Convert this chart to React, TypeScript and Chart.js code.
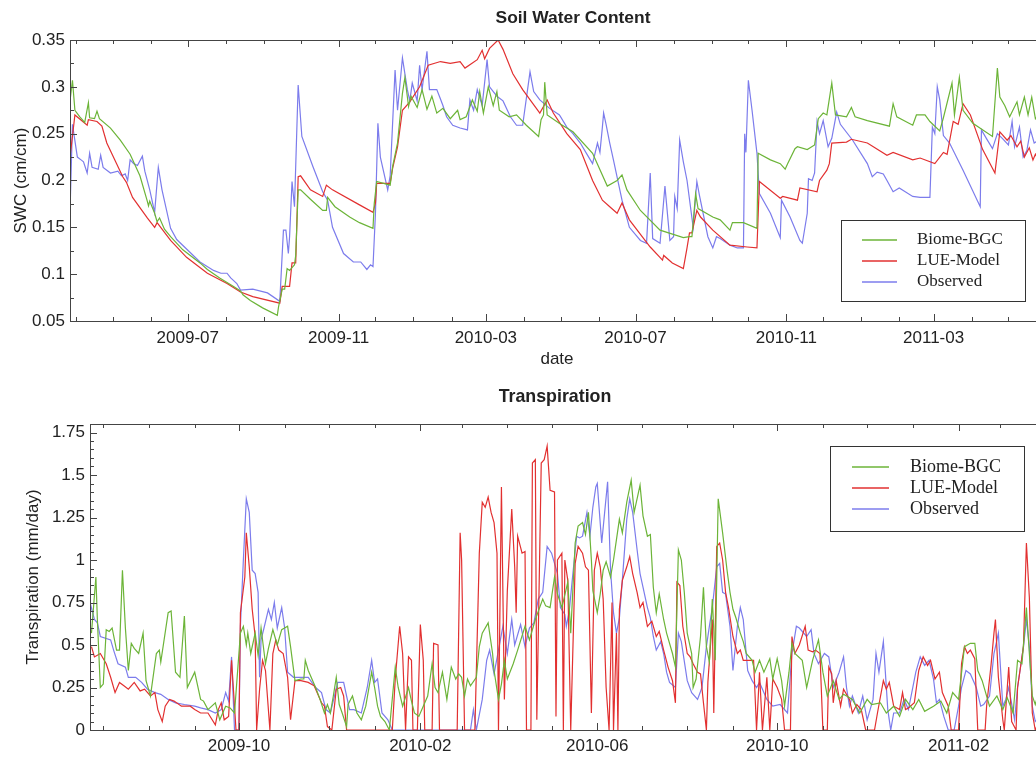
import React, { useEffect, useRef } from "react";
import { Chart, registerables } from "chart.js";

Chart.register(...registerables);

type Pair = [number, number];

// ---------- shared ----------
const seriesNames = ["Biome-BGC", "LUE-Model", "Observed"];
const seriesColors = ["rgb(108,180,56)", "rgb(226,48,48)", "rgb(124,124,236)"];

// ---------- Soil Water Content (days since swcStart, cm/cm) ----------
const swcStart = "2009-03-27";
const swcEnd = "2011-05-30";
const swcYTicks = [0.05, 0.1, 0.15, 0.2, 0.25, 0.3, 0.35];
const swcMajorMonths = ["2009-07", "2009-11", "2010-03", "2010-07", "2010-11", "2011-03"];

const swcBiome: Pair[] = [[0,0.285],[2,0.307],[4,0.275],[8,0.268],[12,0.262],[15,0.283],[16,0.267],[20,0.266],[22,0.274],[24,0.266],[33,0.256],[41,0.243],[49,0.228],[57,0.205],[63,0.178],[64,0.173],[65,0.178],[69,0.165],[71,0.156],[73,0.16],[77,0.148],[82,0.14],[92,0.126],[106,0.112],[112,0.105],[122,0.096],[133,0.087],[139,0.082],[141,0.078],[147,0.072],[157,0.064],[169,0.056],[170,0.065],[173,0.084],[175,0.084],[177,0.106],[179,0.104],[183,0.11],[184,0.12],[186,0.19],[188,0.19],[196,0.18],[206,0.168],[209,0.168],[210,0.182],[216,0.172],[228,0.161],[236,0.155],[247,0.149],[248,0.175],[250,0.199],[261,0.195],[263,0.215],[267,0.24],[271,0.293],[273,0.31],[276,0.279],[278,0.29],[283,0.278],[287,0.297],[291,0.276],[295,0.29],[299,0.272],[304,0.277],[310,0.266],[316,0.275],[318,0.265],[323,0.268],[328,0.286],[332,0.274],[334,0.295],[337,0.272],[341,0.3],[345,0.28],[348,0.295],[350,0.275],[358,0.268],[364,0.27],[372,0.259],[382,0.247],[384,0.265],[386,0.27],[387,0.305],[389,0.27],[400,0.26],[410,0.252],[426,0.229],[438,0.194],[446,0.2],[450,0.206],[454,0.19],[465,0.168],[481,0.147],[500,0.139],[505,0.14],[507,0.14],[510,0.186],[512,0.17],[524,0.161],[530,0.158],[538,0.147],[540,0.155],[549,0.155],[560,0.149],[561,0.229],[571,0.222],[579,0.218],[583,0.212],[585,0.218],[591,0.234],[593,0.236],[601,0.233],[607,0.238],[610,0.266],[614,0.272],[617,0.27],[621,0.304],[624,0.27],[633,0.268],[637,0.278],[640,0.268],[650,0.264],[668,0.258],[671,0.282],[674,0.268],[687,0.259],[690,0.27],[697,0.27],[701,0.263],[709,0.253],[712,0.267],[719,0.304],[721,0.27],[725,0.31],[728,0.275],[736,0.261],[752,0.247],[756,0.32],[758,0.289],[762,0.28],[766,0.268],[772,0.284],[774,0.27],[778,0.289],[781,0.27],[784,0.289],[787,0.266],[792,0.275]];

const swcLue: Pair[] = [[0,0.225],[4,0.27],[14,0.259],[15,0.265],[22,0.263],[26,0.258],[30,0.24],[43,0.204],[46,0.198],[51,0.182],[63,0.16],[69,0.15],[71,0.155],[82,0.136],[95,0.118],[112,0.101],[128,0.09],[139,0.081],[149,0.076],[171,0.069],[173,0.087],[179,0.087],[181,0.112],[184,0.112],[186,0.204],[188,0.205],[196,0.19],[206,0.183],[209,0.195],[214,0.19],[236,0.174],[247,0.166],[249,0.176],[250,0.197],[261,0.197],[263,0.213],[267,0.236],[271,0.275],[277,0.284],[285,0.3],[292,0.323],[302,0.327],[310,0.325],[318,0.327],[322,0.32],[332,0.329],[336,0.339],[338,0.33],[342,0.341],[349,0.35],[353,0.34],[361,0.314],[369,0.297],[383,0.272],[389,0.286],[394,0.272],[405,0.25],[416,0.233],[426,0.2],[434,0.179],[440,0.172],[446,0.165],[450,0.176],[456,0.158],[473,0.129],[483,0.115],[484,0.12],[491,0.112],[500,0.106],[503,0.128],[505,0.144],[507,0.144],[511,0.168],[514,0.161],[524,0.147],[538,0.131],[552,0.129],[560,0.128],[562,0.199],[579,0.181],[581,0.183],[593,0.179],[595,0.192],[609,0.188],[611,0.2],[617,0.211],[619,0.218],[621,0.24],[633,0.241],[637,0.244],[650,0.24],[666,0.227],[671,0.23],[687,0.222],[693,0.224],[705,0.218],[712,0.23],[715,0.228],[720,0.263],[724,0.26],[728,0.282],[734,0.27],[744,0.233],[754,0.208],[758,0.252],[764,0.243],[767,0.248],[772,0.236],[775,0.242],[778,0.225],[782,0.235],[785,0.222],[787,0.228],[792,0.215]];

const swcObs: Pair[] = [[0,0.166],[2,0.26],[6,0.225],[9,0.222],[11,0.22],[14,0.208],[16,0.229],[18,0.214],[23,0.212],[25,0.227],[27,0.214],[33,0.208],[39,0.21],[42,0.205],[45,0.207],[47,0.2],[49,0.222],[52,0.218],[55,0.216],[59,0.226],[61,0.21],[65,0.19],[69,0.166],[72,0.214],[75,0.19],[82,0.149],[87,0.137],[106,0.113],[117,0.104],[123,0.101],[128,0.101],[131,0.096],[136,0.09],[139,0.083],[149,0.084],[161,0.08],[171,0.071],[174,0.147],[176,0.147],[178,0.122],[179,0.14],[181,0.199],[183,0.172],[186,0.302],[189,0.247],[198,0.215],[206,0.188],[210,0.179],[214,0.15],[223,0.122],[231,0.113],[237,0.113],[242,0.105],[245,0.11],[247,0.108],[249,0.165],[251,0.261],[253,0.225],[259,0.19],[261,0.205],[265,0.318],[267,0.275],[271,0.331],[275,0.297],[277,0.285],[279,0.304],[283,0.285],[285,0.323],[287,0.297],[291,0.338],[293,0.297],[299,0.297],[302,0.287],[304,0.28],[307,0.268],[312,0.259],[318,0.256],[324,0.254],[326,0.286],[329,0.275],[332,0.297],[336,0.28],[340,0.329],[342,0.3],[348,0.29],[353,0.285],[359,0.268],[364,0.259],[369,0.259],[375,0.316],[378,0.295],[383,0.286],[391,0.277],[399,0.27],[405,0.257],[410,0.25],[416,0.24],[421,0.229],[426,0.218],[430,0.24],[432,0.23],[434,0.257],[435,0.272],[437,0.26],[440,0.24],[443,0.222],[450,0.179],[456,0.15],[465,0.136],[470,0.133],[473,0.208],[475,0.138],[481,0.133],[485,0.194],[489,0.136],[492,0.14],[493,0.183],[495,0.17],[497,0.243],[500,0.22],[503,0.2],[508,0.15],[511,0.199],[513,0.185],[520,0.14],[524,0.128],[527,0.14],[530,0.138],[538,0.131],[544,0.128],[549,0.128],[550,0.25],[551,0.23],[553,0.307],[556,0.275],[560,0.229],[562,0.186],[571,0.165],[579,0.139],[580,0.179],[587,0.161],[595,0.136],[597,0.133],[601,0.165],[602,0.202],[605,0.2],[607,0.208],[609,0.263],[611,0.25],[614,0.264],[618,0.236],[621,0.245],[625,0.273],[628,0.26],[638,0.243],[650,0.218],[654,0.204],[658,0.209],[663,0.207],[666,0.2],[671,0.188],[676,0.192],[687,0.183],[693,0.182],[701,0.182],[703,0.257],[705,0.25],[707,0.3],[709,0.286],[712,0.248],[717,0.24],[728,0.211],[742,0.172],[743,0.254],[747,0.245],[752,0.234],[756,0.25],[760,0.245],[765,0.238],[768,0.263],[770,0.236],[774,0.257],[777,0.225],[780,0.232],[783,0.254],[786,0.24],[792,0.245]];

// ---------- Transpiration (days since trStart, mm/day) ----------
const trStart = "2009-06-22";
const trEnd = "2011-04-04";
const trYTicks = [0, 0.25, 0.5, 0.75, 1, 1.25, 1.5, 1.75];
const trMajorMonths = ["2009-10", "2010-02", "2010-06", "2010-10", "2011-02"];

const trBiome: Pair[] = [[1,0.57],[4,0.9],[5,0.65],[7,0.25],[9,0.27],[11,0.59],[13,0.58],[15,0.6],[18,0.47],[20,0.47],[22,0.94],[24,0.6],[26,0.35],[28,0.51],[30,0.48],[33,0.45],[36,0.57],[38,0.29],[41,0.2],[45,0.45],[47,0.47],[48,0.4],[53,0.69],[55,0.7],[58,0.34],[61,0.31],[64,0.67],[66,0.25],[71,0.34],[75,0.18],[77,0.17],[80,0.12],[85,0.16],[88,0.06],[92,0.14],[95,0.13],[98,0.1],[102,0.57],[104,0.61],[106,0.5],[107,0.57],[109,0.45],[112,0.57],[114,0.44],[116,0.6],[119,0.39],[121,0.48],[124,0.59],[127,0.5],[130,0.59],[134,0.61],[136,0.49],[139,0.29],[143,0.3],[145,0.3],[146,0.41],[148,0.35],[153,0.25],[156,0.18],[159,0.1],[161,0.15],[163,0.1],[165,0.2],[167,0.31],[169,0.15],[171,0.1],[174,0.02],[175,0.15],[178,0.2],[181,0.1],[184,0.06],[187,0.14],[191,0.34],[193,0.25],[195,0.14],[197,0.08],[200,0.05],[203,0],[207,0.37],[209,0.25],[212,0.14],[216,0.25],[218,0.17],[220,0.1],[223,0.08],[226,0.14],[229,0.2],[232,0.39],[234,0.25],[236,0.22],[239,0.34],[242,0.18],[245,0.37],[248,0.3],[250,0.33],[252,0.31],[254,0.2],[256,0.3],[258,0.26],[262,0.31],[264,0.49],[266,0.57],[270,0.63],[273,0.45],[274,0.35],[277,0.18],[279,0.27],[281,0.41],[283,0.3],[287,0.39],[290,0.47],[295,0.61],[298,0.53],[302,0.65],[307,0.77],[309,0.73],[312,0.72],[315,0.9],[317,0.8],[320,0.72],[324,0.87],[326,0.57],[329,1.1],[331,1.2],[334,1.22],[336,1.15],[338,1.28],[340,1.0],[341,0.82],[344,0.69],[346,0.8],[348,0.94],[350,0.99],[353,0.9],[355,1.0],[357,1.12],[359,1.24],[361,1.16],[364,1.34],[367,1.47],[369,1.28],[373,1.44],[375,1.26],[378,1.14],[380,1.15],[382,0.84],[384,0.69],[386,0.8],[389,0.65],[391,0.57],[395,0.45],[397,0.37],[399,1.06],[401,1.0],[403,0.81],[405,0.57],[408,0.45],[409,0.25],[411,0.3],[414,0.55],[416,0.84],[418,0.49],[420,0.4],[422,0.77],[424,0.41],[426,1.36],[429,1.16],[432,0.94],[434,0.81],[436,0.71],[438,0.66],[441,0.57],[443,0.52],[445,0.45],[449,0.41],[451,0.34],[454,0.41],[457,0.34],[461,0.42],[463,0.3],[466,0.42],[469,0.29],[471,0.14],[474,0.34],[476,0.51],[478,0.45],[483,0.41],[486,0.25],[490,0.41],[494,0.53],[497,0.34],[500,0.2],[504,0.29],[508,0.18],[511,0.21],[517,0.18],[522,0.1],[527,0.18],[530,0.15],[536,0.16],[540,0.1],[545,0.14],[549,0.08],[553,0.18],[558,0.12],[562,0.18],[566,0.11],[572,0.14],[577,0.17],[581,0.1],[585,0.22],[589,0.18],[593,0.49],[597,0.51],[600,0.51],[602,0.35],[605,0.29],[610,0.14],[615,0.2],[619,0.12],[622,0.19],[626,0.1],[629,0.41],[632,0.39],[635,0.72],[637,0.45],[639,0.2],[641,0.15],[646,0.3]];

const trLue: Pair[] = [[1,0.49],[3,0.43],[7,0.45],[11,0.39],[14,0.31],[17,0.22],[20,0.28],[23,0.26],[26,0.24],[30,0.28],[34,0.23],[37,0.24],[41,0.2],[44,0.22],[46,0.12],[49,0.05],[51,0.14],[54,0.18],[57,0.17],[62,0.14],[68,0.14],[71,0.12],[75,0.1],[80,0.1],[85,0.03],[87,0.12],[89,0.16],[91,0.06],[94,0.08],[96,0.41],[98,0.14],[99,0],[101,0],[102,0.69],[105,0.9],[106,1.16],[108,0.96],[110,0.71],[112,0.55],[113,0],[115,0.24],[117,0.41],[119,0.35],[122,0],[124,0.45],[126,0.53],[128,0.47],[131,0.45],[134,0.31],[136,0.06],[139,0.29],[143,0.29],[148,0.28],[152,0.26],[157,0.16],[159,0.14],[161,0.02],[164,0],[167,0.24],[170,0.25],[172,0.2],[174,0],[205,0],[207,0.3],[210,0.61],[212,0.45],[214,0],[216,0.43],[218,0.41],[219,0],[222,0],[224,0.62],[226,0.41],[227,0],[232,0],[233,0.51],[236,0.5],[237,0],[249,0],[251,1.16],[252,1.0],[254,0],[261,0],[264,1.04],[266,1.34],[268,1.31],[270,1.37],[272,1.28],[274,1.22],[276,1.04],[277,0],[279,1.43],[281,0.18],[283,0.82],[286,1.3],[288,0.96],[289,0.69],[290,1.14],[293,1.04],[295,1.05],[296,0],[299,0],[300,1.57],[302,1.59],[303,0.06],[306,1.57],[308,1.59],[310,1.67],[312,1.41],[315,1.4],[316,0.08],[317,1.0],[320,1.04],[321,0],[322,1.0],[324,0.88],[326,0],[329,0.98],[331,1.08],[334,1.04],[336,0.96],[338,0.94],[340,0.1],[342,0.94],[344,1.04],[346,0.96],[348,0.77],[350,0.25],[352,0],[354,0.75],[355,0],[357,0.57],[358,0],[359,0.71],[361,0.88],[364,0.96],[366,1.02],[368,0.92],[371,0.81],[373,0.72],[375,0.75],[378,0.61],[381,0.64],[384,0.55],[386,0.58],[389,0.47],[392,0.37],[395,0.29],[397,0.16],[398,0.87],[400,0.85],[402,0.61],[405,0.45],[407,0.43],[409,0.39],[412,0.34],[414,0.33],[416,0.16],[418,0],[419,0.28],[422,0.65],[423,0.1],[425,1.08],[427,1.1],[429,1.0],[431,0.81],[433,0.72],[436,0.55],[439,0.45],[441,0.47],[443,0.41],[446,0.41],[450,0.41],[452,0],[454,0.34],[456,0],[459,0.31],[461,0],[463,0.3],[466,0.25],[469,0.18],[471,0],[475,0],[476,0.55],[478,0.45],[481,0.5],[485,0.61],[487,0.47],[490,0.46],[492,0.47],[495,0.45],[497,0],[500,0],[501,0.37],[503,0.33],[504,0.16],[506,0.29],[509,0.14],[511,0.24],[515,0.18],[517,0.1],[520,0.15],[523,0.12],[526,0],[532,0],[534,0.1],[538,0.29],[540,0.24],[542,0.28],[545,0.14],[549,0.12],[551,0.22],[553,0.12],[555,0.13],[559,0.16],[562,0.35],[565,0.43],[568,0.38],[570,0.41],[573,0.3],[576,0.34],[578,0.22],[582,0.14],[584,0],[589,0],[591,0.39],[593,0.49],[595,0.45],[597,0.47],[600,0.42],[602,0],[607,0],[608,0.14],[611,0.38],[613,0.57],[614,0.65],[616,0.31],[619,0.06],[620,0],[623,0.37],[625,0.05],[628,0],[629,0.25],[633,0.49],[635,1.1],[637,0.78],[639,0.1],[641,0],[646,0.1]];

const trObs: Pair[] = [[0,0.75],[3,0.65],[5,0.63],[7,0.55],[14,0.53],[16,0.47],[19,0.39],[24,0.37],[26,0.31],[31,0.31],[35,0.28],[39,0.24],[44,0.22],[48,0.21],[53,0.18],[58,0.16],[64,0.15],[71,0.14],[75,0.13],[80,0.12],[85,0.1],[89,0.12],[92,0.22],[94,0.17],[96,0.43],[98,0],[101,0],[102,0.61],[104,1.0],[106,1.36],[108,1.28],[110,0.94],[112,0.92],[114,0.81],[115,0.31],[116,0.53],[118,0.6],[121,0.71],[123,0.65],[125,0.75],[127,0.6],[130,0.72],[132,0.6],[134,0.34],[138,0.31],[143,0.31],[148,0.31],[153,0.25],[157,0.22],[160,0.12],[163,0.1],[168,0.28],[172,0.28],[174,0.2],[176,0.12],[179,0.12],[184,0.1],[188,0.25],[191,0.41],[193,0.28],[195,0.3],[198,0.1],[202,0.06],[205,0],[258,0],[260,0.12],[262,0],[266,0.18],[269,0.41],[271,0.47],[274,0.33],[277,0.47],[280,0.61],[283,0.45],[286,0.65],[288,0.5],[292,0.62],[295,0.49],[298,0.6],[301,0.63],[304,0.77],[307,0.81],[310,1.08],[313,1.04],[317,0.92],[319,0.72],[322,0.68],[323,0.61],[325,0.7],[327,0.88],[330,1.14],[332,1.13],[334,1.14],[337,1.28],[339,1.14],[341,1.31],[343,1.43],[344,1.45],[347,1.1],[349,1.28],[351,1.46],[353,0.94],[355,0.69],[357,0.57],[359,0.66],[361,0.88],[364,1.24],[366,1.36],[368,1.28],[371,1.06],[373,0.92],[375,0.84],[378,0.72],[380,0.66],[382,0.55],[384,0.47],[387,0.52],[389,0.45],[391,0.34],[393,0.28],[397,0.25],[399,0.57],[401,0.52],[405,0.29],[408,0.22],[412,0.18],[415,0.25],[418,0.49],[420,0.61],[422,0.72],[425,0.96],[427,0.98],[429,0.81],[431,0.8],[434,0.61],[436,0.35],[439,0.61],[441,0.72],[443,0.65],[446,0.35],[449,0.29],[452,0.25],[454,0.28],[459,0.18],[463,0.14],[468,0.15],[473,0.1],[476,0.45],[479,0.61],[481,0.6],[486,0.55],[489,0.59],[491,0.45],[494,0.39],[498,0.45],[501,0.43],[504,0.25],[508,0.34],[511,0.43],[513,0.25],[515,0.14],[517,0.2],[521,0.1],[524,0.2],[527,0.06],[531,0.18],[533,0.45],[535,0.34],[538,0.52],[541,0.12],[543,0],[545,0.1],[549,0.1],[552,0.18],[555,0.12],[560,0.34],[563,0.43],[566,0.38],[569,0.41],[572,0.3],[574,0.16],[576,0.18],[579,0.08],[582,0],[586,0],[589,0.14],[591,0.25],[594,0.35],[597,0.33],[601,0.25],[604,0.14],[606,0.15],[610,0.2],[613,0.45],[616,0.57],[619,0.14],[621,0.18],[623,0.25],[627,0.06],[629,0.25],[633,0.49],[635,0.65],[637,0.49],[639,0.14],[641,0.05],[646,0.1]];

// ---------- helpers ----------
const SANS = '"Liberation Sans", Arial, Helvetica, sans-serif';
const SERIF = '"Liberation Serif", "Times New Roman", serif';
const INK = "#222";
const FRAME = "#444";

function dayNum(s: string): number {
  const [y, m, d] = s.split("-").map(Number);
  return Date.UTC(y, m - 1, d || 1) / 86400000;
}
function monthLabel(day: number): string {
  const dt = new Date(day * 86400000);
  return `${dt.getUTCFullYear()}-${String(dt.getUTCMonth() + 1).padStart(2, "0")}`;
}
function monthStarts(minDay: number, maxDay: number): number[] {
  const out: number[] = [];
  const dt = new Date(minDay * 86400000);
  let y = dt.getUTCFullYear();
  let m = dt.getUTCMonth();
  for (let i = 0; i < 60; i++) {
    const d = Date.UTC(y, m, 1) / 86400000;
    if (d > maxDay) break;
    if (d >= minDay) out.push(d);
    m++;
    if (m > 11) { m = 0; y++; }
  }
  return out;
}

interface Spec {
  width: number; height: number; top: number;
  area: { left: number; top: number; right: number; bottom: number };
  start: string; end: string;
  series: Pair[][];
  yMin: number; yMax: number; yTicks: number[]; yMinor: number;
  majorMonths: string[];
  title: string; titleX: number; titleBase: number; titleSize: number;
  yTitle: string; yTitlePad: number;
  xTitle: string | null;
  xTickPad: number;
  legend: { x0: number; y0: number; x1: number; y1: number; lx0: number; lx1: number; tx: number; rows: number[]; size: number };
}

const specs: Spec[] = [
  {
    width: 1100, height: 380, top: 0,
    area: { left: 70, top: 40, right: 1044, bottom: 321 },
    start: swcStart, end: swcEnd,
    series: [swcBiome, swcLue, swcObs],
    yMin: 0.05, yMax: 0.35, yTicks: swcYTicks, yMinor: 0.025,
    majorMonths: swcMajorMonths,
    title: "Soil Water Content", titleX: 573, titleBase: 23, titleSize: 17.4,
    yTitle: "SWC (cm/cm)", yTitlePad: 11,
    xTitle: "date",
    xTickPad: 7,
    legend: { x0: 841, y0: 220, x1: 1025, y1: 301, lx0: 862, lx1: 897, tx: 917, rows: [240, 261, 282], size: 17 },
  },
  {
    width: 1100, height: 377, top: 380,
    area: { left: 90, top: 44, right: 1050, bottom: 350 },
    start: trStart, end: trEnd,
    series: [trBiome, trLue, trObs],
    yMin: 0, yMax: 1.8, yTicks: trYTicks, yMinor: 0.05,
    majorMonths: trMajorMonths,
    title: "Transpiration", titleX: 555, titleBase: 22, titleSize: 17.8,
    yTitle: "Transpiration (mm/day)", yTitlePad: 23,
    xTitle: null,
    xTickPad: 6,
    legend: { x0: 830, y0: 66, x1: 1024, y1: 151, lx0: 852, lx1: 889, tx: 910, rows: [87, 108, 129], size: 18 },
  },
];

function buildChart(canvas: HTMLCanvasElement, spec: Spec) {
  const base = dayNum(spec.start);
  const xMin = base;
  const xMax = dayNum(spec.end);
  const majorDays = spec.majorMonths.map((m) => dayNum(m + "-01"));
  const months = monthStarts(xMin, xMax);

  const decor = {
    id: "decor",
    afterDraw(chart: any) {
      const { ctx, chartArea: a, scales } = chart;
      const xs = scales.x;
      const ys = scales.y;
      ctx.save();
      ctx.setLineDash([]);
      ctx.strokeStyle = FRAME;
      ctx.lineWidth = 1;
      ctx.beginPath();
      months.forEach((d) => {
        const major = majorDays.includes(d);
        const len = major ? 7 : 4;
        const px = Math.round(xs.getPixelForValue(d)) + 0.5;
        ctx.moveTo(px, a.bottom);
        ctx.lineTo(px, a.bottom - len);
        ctx.moveTo(px, a.top);
        ctx.lineTo(px, a.top + len);
      });
      const n = Math.round((spec.yMax - spec.yMin) / spec.yMinor);
      for (let k = 0; k <= n; k++) {
        const v = spec.yMin + k * spec.yMinor;
        const major = spec.yTicks.some((t) => Math.abs(t - v) < 1e-6);
        const len = major ? 7 : 4;
        const py = Math.round(ys.getPixelForValue(v)) + 0.5;
        ctx.moveTo(a.left, py);
        ctx.lineTo(a.left + len, py);
      }
      ctx.stroke();
      ctx.strokeRect(Math.round(a.left) + 0.5, Math.round(a.top) + 0.5, Math.round(a.right - a.left), Math.round(a.bottom - a.top));

      // title
      ctx.fillStyle = INK;
      ctx.font = `bold ${spec.titleSize}px ${SANS}`;
      ctx.textAlign = "center";
      ctx.textBaseline = "alphabetic";
      ctx.fillText(spec.title, spec.titleX, spec.titleBase);

      // legend
      const L = spec.legend;
      ctx.fillStyle = "#fff";
      ctx.fillRect(L.x0, L.y0, L.x1 - L.x0, L.y1 - L.y0);
      ctx.strokeStyle = "#333";
      ctx.lineWidth = 1;
      ctx.strokeRect(L.x0 + 0.5, L.y0 + 0.5, L.x1 - L.x0, L.y1 - L.y0);
      ctx.font = `${L.size}px ${SERIF}`;
      ctx.textAlign = "left";
      ctx.textBaseline = "middle";
      for (let i = 0; i < seriesNames.length; i++) {
        const y = L.rows[i];
        ctx.beginPath();
        ctx.strokeStyle = seriesColors[i];
        ctx.lineWidth = 1.5;
        ctx.moveTo(L.lx0, y);
        ctx.lineTo(L.lx1, y);
        ctx.stroke();
        ctx.fillStyle = INK;
        ctx.fillText(seriesNames[i], L.tx, y);
      }
      ctx.restore();
    },
  };

  const datasets = spec.series.map((pts, i) => ({
    label: seriesNames[i],
    data: pts.map(([d, v]) => ({ x: base + d, y: v })),
    borderColor: seriesColors[i],
    backgroundColor: seriesColors[i],
    borderWidth: 1.2,
    pointRadius: 0,
    pointHoverRadius: 0,
    fill: false,
    tension: 0,
  }));

  const tickFont = { family: SANS, size: 17 };

  return new Chart(canvas, {
    type: "line",
    data: { datasets },
    plugins: [decor],
    options: {
      responsive: false,
      animation: false,
      devicePixelRatio: 1,
      events: [],
      layout: { padding: { left: 0, top: spec.area.top, right: spec.width - spec.area.right, bottom: 0 } },
      plugins: { legend: { display: false }, title: { display: false }, tooltip: { enabled: false } },
      scales: {
        x: {
          type: "linear",
          min: xMin,
          max: xMax,
          grid: { display: false, drawTicks: false },
          border: { display: false },
          ticks: {
            autoSkip: false,
            maxRotation: 0,
            minRotation: 0,
            padding: spec.xTickPad,
            color: INK,
            font: tickFont,
            callback: (v: any) => monthLabel(Number(v)),
          },
          afterBuildTicks: (s: any) => { s.ticks = majorDays.map((v) => ({ value: v })); },
          afterFit: (s: any) => { s.height = spec.height - spec.area.bottom; },
          title: spec.xTitle
            ? { display: true, text: spec.xTitle, color: INK, font: { family: SANS, size: 17 }, padding: { top: 0, bottom: 10 } }
            : { display: false },
        },
        y: {
          type: "linear",
          min: spec.yMin,
          max: spec.yMax,
          grid: { display: false, drawTicks: false },
          border: { display: false },
          ticks: { padding: 5, color: INK, font: tickFont, callback: (v: any) => String(v) },
          afterBuildTicks: (s: any) => { s.ticks = spec.yTicks.map((v) => ({ value: v })); },
          afterFit: (s: any) => { s.width = spec.area.left; },
          title: { display: true, text: spec.yTitle, color: INK, font: { family: SANS, size: 17 }, padding: { top: spec.yTitlePad, bottom: 0 } },
        },
      },
    } as any,
  });
}

function Panel({ spec }: { spec: Spec }) {
  const ref = useRef<HTMLCanvasElement>(null);
  useEffect(() => {
    if (!ref.current) return;
    const chart = buildChart(ref.current, spec);
    return () => chart.destroy();
  }, [spec]);
  return (
    <canvas
      ref={ref}
      width={spec.width}
      height={spec.height}
      style={{ position: "absolute", left: 0, top: spec.top, width: spec.width, height: spec.height, display: "block" }}
    />
  );
}

export default function App() {
  return (
    <div style={{ position: "fixed", left: 0, top: 0, width: 1036, height: 757, overflow: "hidden", background: "#fff" }}>
      {specs.map((s, i) => (
        <Panel key={i} spec={s} />
      ))}
    </div>
  );
}
